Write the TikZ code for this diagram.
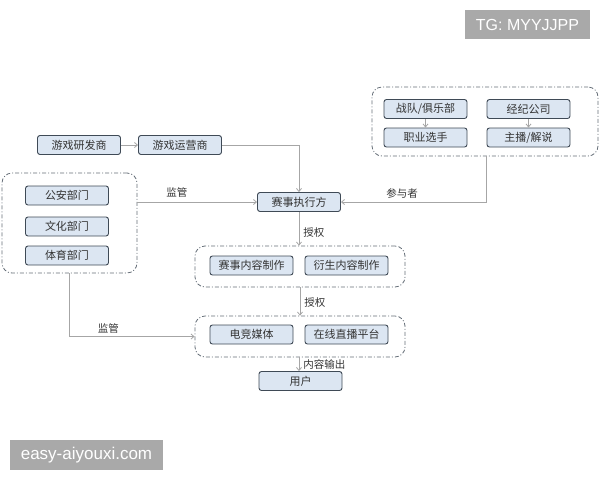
\documentclass[tikz,border=0pt]{standalone}
\usepackage{fontspec}
\setmainfont{Noto Sans CJK SC}
\newfontfamily\tagfont{Liberation Sans}
\usetikzlibrary{arrows.meta}
\definecolor{boxfill}{HTML}{DCE6F2}
\definecolor{boxline}{HTML}{3F4A56}
\definecolor{linegray}{HTML}{A6A6A6}
\definecolor{taggray}{HTML}{A9A9A9}
\definecolor{txt}{HTML}{333333}
\begin{document}
\begin{tikzpicture}[x=1pt,y=-1pt,
  unit/.style={draw=boxline,fill=boxfill,line width=0.9pt,rounded corners=2.5pt,
    minimum width=83pt,minimum height=19pt,inner sep=0pt,text=txt,font=\fontsize{11}{12}\selectfont},
  group/.style={draw=boxline!80,line width=0.8pt,rounded corners=10pt,
    dash pattern=on 4pt off 2pt on 1pt off 2pt,inner sep=0pt},
  conn/.style={draw=linegray,line width=0.8pt,-{Straight Barb[length=3pt,width=5pt]}},
  lbl/.style={font=\fontsize{10.5}{12}\selectfont,text=txt,inner sep=1pt},
  tag/.style={fill=taggray,text=white,inner sep=0pt,font=\tagfont}]
  \useasboundingbox (0,0) rectangle (600,480);
  % groups
  \node[group,minimum width=135pt,minimum height=100pt] (grpL) at (69.5,223) {};
  \node[group,minimum width=226pt,minimum height=69pt] (grpR) at (485,121.5) {};
  \node[group,minimum width=210pt,minimum height=41pt] (grpMake) at (300,266.5) {};
  \node[group,minimum width=210pt,minimum height=41pt] (grpOut) at (300,336.5) {};
  % units
  \node[unit] (dev) at (79,145) {游戏研发商};
  \node[unit] (ops) at (180,145) {游戏运营商};
  \node[unit] (police) at (67,195.5) {公安部门};
  \node[unit] (culture) at (67,226.5) {文化部门};
  \node[unit] (sport) at (67,255.5) {体育部门};
  \node[unit] (exec) at (299,202) {赛事执行方};
  \node[unit] (team) at (425.5,109) {战队/俱乐部};
  \node[unit] (agency) at (528.5,109) {经纪公司};
  \node[unit] (player) at (425.5,137.5) {职业选手};
  \node[unit] (caster) at (528.5,137.5) {主播/解说};
  \node[unit] (match) at (251.5,265.5) {赛事内容制作};
  \node[unit] (derive) at (346.5,265.5) {衍生内容制作};
  \node[unit] (media) at (251.5,334.5) {电竞媒体};
  \node[unit] (live) at (346.5,334.5) {在线直播平台};
  \node[unit] (user) at (300.5,381) {用户};
  % connectors
  \draw[conn] (dev) -- (ops);
  \draw[conn] (ops.east) -| (exec.north);
  \draw[conn] (team) -- (player);
  \draw[conn] (agency) -- (caster);
  \draw[conn] (grpL.east |- exec) -- node[lbl,pos=0.33,above=3pt] {监管} (exec.west);
  \draw[conn] (caster.west |- grpR.south) |- node[lbl,pos=0.79,above=2pt] {参与者} (exec.east);
  \draw[conn] (exec.south) -- node[lbl,pos=0.6,right=3pt] {授权} (exec.south |- grpMake.north);
  \draw[conn] (grpMake.south) -- node[lbl,pos=0.55,right=3pt] {授权} (grpOut.north);
  \draw[conn] (grpL.south) |- node[lbl,pos=0.655,above=2pt] {监管} (grpOut.west);
  \draw[conn] (grpOut.south -| exec) -- node[lbl,pos=0.5,right=3pt] {内容输出} (user.north -| exec);
  % tags
  \node[tag,minimum width=125pt,minimum height=29pt,font=\tagfont\fontsize{16}{18}\selectfont] (tg) at (527.5,24.5) {TG: MYYJJPP};
  \node[tag,minimum width=153pt,minimum height=30pt,font=\tagfont\fontsize{17}{19}\selectfont] (site) at (86.5,455) {easy-aiyouxi.com};
\end{tikzpicture}
\end{document}
